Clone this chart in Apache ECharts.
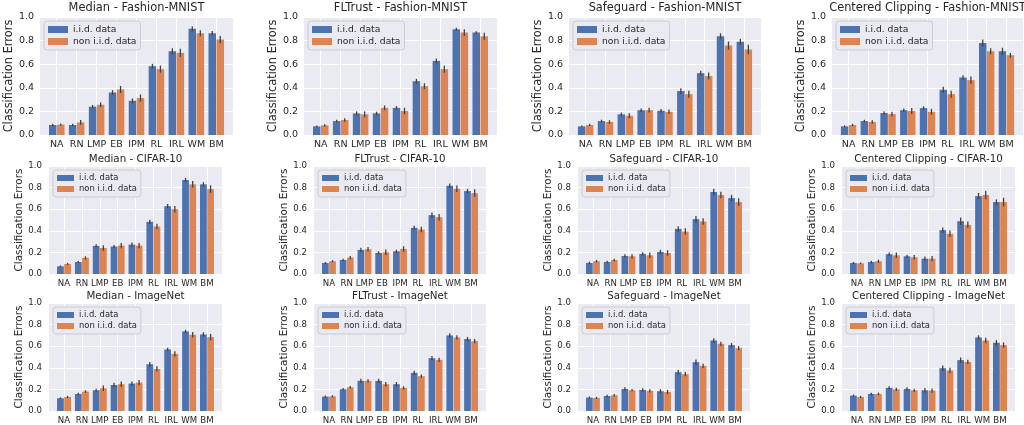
<!DOCTYPE html>
<html><head><meta charset="utf-8">
<script src="https://cdn.jsdelivr.net/npm/echarts@6/dist/echarts.min.js"></script>
<style>html,body{margin:0;padding:0;background:#fff}#c{width:1024px;height:425px}</style>
</head><body><div id="c"></div><script>
const categories = ['NA','RN','LMP','EB','IPM','RL','IRL','WM','BM'];
const seriesNames = ['i.i.d. data', 'non i.i.d. data'];
const yAxisName = 'Classification Errors';

// Row 1: Fashion-MNIST
const medianFmnistIid    = [0.085,0.085,0.240,0.360,0.290,0.583,0.710,0.900,0.862];
const medianFmnistNon    = [0.088,0.107,0.256,0.386,0.313,0.558,0.696,0.862,0.810];
const medianFmnistIidErr = [0.010,0.010,0.015,0.020,0.020,0.020,0.025,0.020,0.020];
const medianFmnistNonErr = [0.010,0.020,0.020,0.030,0.030,0.030,0.035,0.025,0.030];

const fltrustFmnistIid    = [0.073,0.118,0.183,0.183,0.230,0.456,0.628,0.896,0.868];
const fltrustFmnistNon    = [0.082,0.127,0.175,0.230,0.203,0.414,0.558,0.868,0.837];
const fltrustFmnistIidErr = [0.008,0.012,0.018,0.015,0.015,0.020,0.020,0.012,0.012];
const fltrustFmnistNonErr = [0.010,0.015,0.025,0.020,0.028,0.025,0.030,0.028,0.030];

const safeguardFmnistIid    = [0.073,0.118,0.175,0.210,0.205,0.372,0.524,0.837,0.790];
const safeguardFmnistNon    = [0.085,0.110,0.163,0.210,0.197,0.346,0.500,0.758,0.724];
const safeguardFmnistIidErr = [0.008,0.012,0.015,0.015,0.015,0.025,0.020,0.025,0.025];
const safeguardFmnistNonErr = [0.010,0.015,0.022,0.020,0.020,0.030,0.030,0.035,0.040];

const ccFmnistIid    = [0.073,0.118,0.186,0.210,0.228,0.383,0.487,0.780,0.710];
const ccFmnistNon    = [0.085,0.110,0.177,0.203,0.197,0.346,0.465,0.710,0.676];
const ccFmnistIidErr = [0.008,0.012,0.015,0.015,0.015,0.025,0.020,0.030,0.030];
const ccFmnistNonErr = [0.010,0.015,0.020,0.025,0.025,0.030,0.030,0.025,0.020];

// Row 2: CIFAR-10
const medianCifarIid    = [0.071,0.111,0.260,0.254,0.272,0.483,0.628,0.870,0.830];
const medianCifarNon    = [0.093,0.149,0.241,0.263,0.263,0.440,0.600,0.830,0.786];
const medianCifarIidErr = [0.008,0.010,0.015,0.015,0.020,0.020,0.020,0.020,0.020];
const medianCifarNonErr = [0.010,0.015,0.025,0.025,0.025,0.025,0.030,0.030,0.035];

const fltrustCifarIid    = [0.102,0.130,0.223,0.195,0.210,0.427,0.545,0.817,0.768];
const fltrustCifarNon    = [0.118,0.152,0.229,0.201,0.232,0.412,0.526,0.789,0.749];
const fltrustCifarIidErr = [0.010,0.012,0.020,0.015,0.015,0.020,0.025,0.020,0.020];
const fltrustCifarNonErr = [0.010,0.015,0.020,0.025,0.025,0.025,0.030,0.030,0.035];

const safeguardCifarIid    = [0.102,0.111,0.167,0.186,0.204,0.418,0.508,0.759,0.703];
const safeguardCifarNon    = [0.118,0.130,0.164,0.173,0.195,0.393,0.486,0.731,0.666];
const safeguardCifarIidErr = [0.012,0.012,0.015,0.015,0.020,0.025,0.030,0.030,0.030];
const safeguardCifarNonErr = [0.012,0.012,0.020,0.025,0.025,0.030,0.030,0.030,0.035];

const ccCifarIid    = [0.102,0.111,0.183,0.164,0.142,0.406,0.489,0.721,0.666];
const ccCifarNon    = [0.099,0.118,0.173,0.155,0.142,0.372,0.455,0.731,0.666];
const ccCifarIidErr = [0.010,0.012,0.015,0.015,0.020,0.025,0.035,0.030,0.025];
const ccCifarNonErr = [0.008,0.015,0.025,0.020,0.025,0.030,0.030,0.040,0.040];

// Row 3: ImageNet
const medianImagenetIid    = [0.118,0.158,0.192,0.241,0.254,0.433,0.570,0.737,0.709];
const medianImagenetNon    = [0.130,0.180,0.210,0.248,0.263,0.390,0.529,0.706,0.684];
const medianImagenetIidErr = [0.008,0.012,0.015,0.020,0.020,0.020,0.015,0.015,0.020];
const medianImagenetNonErr = [0.010,0.012,0.025,0.025,0.025,0.025,0.025,0.025,0.030];

const fltrustImagenetIid    = [0.133,0.201,0.279,0.279,0.248,0.353,0.489,0.700,0.666];
const fltrustImagenetNon    = [0.136,0.220,0.279,0.248,0.214,0.322,0.474,0.681,0.647];
const fltrustImagenetIidErr = [0.010,0.012,0.020,0.020,0.020,0.020,0.020,0.020,0.020];
const fltrustImagenetNonErr = [0.010,0.012,0.015,0.020,0.015,0.015,0.020,0.020,0.020];

const safeguardImagenetIid    = [0.124,0.139,0.204,0.195,0.183,0.359,0.452,0.653,0.610];
const safeguardImagenetNon    = [0.121,0.146,0.192,0.186,0.176,0.341,0.418,0.622,0.582];
const safeguardImagenetIidErr = [0.010,0.012,0.015,0.015,0.020,0.020,0.025,0.020,0.020];
const safeguardImagenetNonErr = [0.010,0.012,0.012,0.015,0.020,0.020,0.020,0.020,0.020];

const ccImagenetIid    = [0.142,0.158,0.214,0.204,0.192,0.396,0.471,0.681,0.632];
const ccImagenetNon    = [0.130,0.158,0.201,0.192,0.189,0.375,0.455,0.653,0.610];
const ccImagenetIidErr = [0.010,0.012,0.015,0.015,0.020,0.025,0.025,0.020,0.025];
const ccImagenetNonErr = [0.010,0.012,0.015,0.015,0.020,0.025,0.020,0.025,0.025];

const panels = [
  ['Median - Fashion-MNIST', medianFmnistIid, medianFmnistNon, medianFmnistIidErr, medianFmnistNonErr],
  ['FLTrust - Fashion-MNIST', fltrustFmnistIid, fltrustFmnistNon, fltrustFmnistIidErr, fltrustFmnistNonErr],
  ['Safeguard - Fashion-MNIST', safeguardFmnistIid, safeguardFmnistNon, safeguardFmnistIidErr, safeguardFmnistNonErr],
  ['Centered Clipping - Fashion-MNIST', ccFmnistIid, ccFmnistNon, ccFmnistIidErr, ccFmnistNonErr],
  ['Median - CIFAR-10', medianCifarIid, medianCifarNon, medianCifarIidErr, medianCifarNonErr],
  ['FLTrust - CIFAR-10', fltrustCifarIid, fltrustCifarNon, fltrustCifarIidErr, fltrustCifarNonErr],
  ['Safeguard - CIFAR-10', safeguardCifarIid, safeguardCifarNon, safeguardCifarIidErr, safeguardCifarNonErr],
  ['Centered Clipping - CIFAR-10', ccCifarIid, ccCifarNon, ccCifarIidErr, ccCifarNonErr],
  ['Median - ImageNet', medianImagenetIid, medianImagenetNon, medianImagenetIidErr, medianImagenetNonErr],
  ['FLTrust - ImageNet', fltrustImagenetIid, fltrustImagenetNon, fltrustImagenetIidErr, fltrustImagenetNonErr],
  ['Safeguard - ImageNet', safeguardImagenetIid, safeguardImagenetNon, safeguardImagenetIidErr, safeguardImagenetNonErr],
  ['Centered Clipping - ImageNet', ccImagenetIid, ccImagenetNon, ccImagenetIidErr, ccImagenetNonErr]
];

// layout per row
const rowsLayout = [
  {top: 17, height: 118, lefts: [40, 304, 569, 832], widths: [193, 193, 192, 191],
   titleTop: 3, titleSize: 11.4, tickSize: 9.5, nameSize: 11.4, nameGap: 25, labelMargin: 6,
   legendSize: 9.2, legendIconW: 20, legendIconH: 7, legendGap: 3},
  {top: 166, height: 108, lefts: [49, 314, 578, 842], widths: [173, 172, 172, 173],
   titleTop: 154, titleSize: 10.3, tickSize: 8.6, nameSize: 10.4, nameGap: 23, labelMargin: 7,
   legendSize: 8.4, legendIconW: 17, legendIconH: 6, legendGap: 3},
  {top: 303, height: 108, lefts: [49, 314, 578, 842], widths: [173, 172, 172, 173],
   titleTop: 291, titleSize: 10.3, tickSize: 8.6, nameSize: 10.4, nameGap: 23, labelMargin: 7,
   legendSize: 8.4, legendIconW: 17, legendIconH: 6, legendGap: 3}
];

const FONT = 'DejaVu Sans';
const TXT = '#262626';
const COLORS = ['#4C72B0', '#DD8452'];
const BG = '#EAEAF2';

const grids = [], xAxes = [], yAxes = [], titles = [], legends = [], series = [];

function errRenderer(offsetFrac) {
  return function (params, api) {
    const x = api.value(0), v = api.value(1), e = api.value(2);
    const band = api.size([1, 0])[0];
    const p1 = api.coord([x, v + e]);
    const p2 = api.coord([x, v - e]);
    const cx = p1[0] + offsetFrac * band;
    return {type: 'line', shape: {x1: cx, y1: p1[1], x2: cx, y2: p2[1]},
            style: {stroke: '#424242', lineWidth: 1.3}};
  };
}

// background grids (0..11)
panels.forEach((p, i) => {
  const r = Math.floor(i / 4), c = i % 4, L = rowsLayout[r];
  grids.push({left: L.lefts[c], top: L.top, width: L.widths[c], height: L.height,
              show: true, backgroundColor: BG, borderWidth: 0, containLabel: false});
  xAxes.push({gridIndex: i, type: 'value', min: 0, max: 1, show: false});
  yAxes.push({gridIndex: i, type: 'value', min: 0, max: 1, interval: 0.2,
    name: yAxisName, nameLocation: 'middle', nameGap: L.nameGap,
    nameTextStyle: {fontFamily: FONT, fontSize: L.nameSize, color: TXT},
    axisLine: {show: false}, axisTick: {show: false},
    axisLabel: {fontFamily: FONT, fontSize: L.tickSize, color: TXT, margin: L.labelMargin,
                formatter: v => v.toFixed(1)},
    splitLine: {show: true, lineStyle: {color: '#ffffff', width: 1}}});
  titles.push({text: p[0], left: L.lefts[c] + L.widths[c] / 2, top: L.titleTop, textAlign: 'center',
    padding: 0, textStyle: {fontFamily: FONT, fontSize: L.titleSize, fontWeight: 'normal', color: TXT}});
  legends.push({data: seriesNames, orient: 'vertical', left: L.lefts[c] + 4, top: L.top + 4,
    icon: 'rect', itemWidth: L.legendIconW, itemHeight: L.legendIconH, itemGap: L.legendGap,
    padding: [4, 4, 4, 4], backgroundColor: BG, borderColor: '#cccccc', borderWidth: 1, borderRadius: 3,
    textStyle: {fontFamily: FONT, fontSize: L.legendSize, color: TXT}, selectedMode: false});
});

// data grids (12..23)
panels.forEach((p, i) => {
  const r = Math.floor(i / 4), c = i % 4, L = rowsLayout[r];
  const W = L.widths[c];
  const inset = W * 0.34 / 9.68;
  const gi = 12 + i;
  grids.push({left: L.lefts[c] + inset, top: L.top, width: W - 2 * inset, height: L.height, show: false});
  xAxes.push({gridIndex: gi, type: 'category', data: categories, boundaryGap: true,
    axisLine: {show: false},
    axisTick: {show: true, inside: true, length: L.height, alignWithLabel: true,
               lineStyle: {color: '#ffffff', width: 1}},
    axisLabel: {fontFamily: FONT, fontSize: L.tickSize, color: TXT, margin: 5, interval: 0},
    splitLine: {show: false}});
  yAxes.push({gridIndex: gi, type: 'value', min: 0, max: 1, show: false, splitLine: {show: false}});
  [0, 1].forEach(k => {
    series.push({type: 'bar', name: seriesNames[k], xAxisIndex: gi, yAxisIndex: gi,
      data: p[1 + k], itemStyle: {color: COLORS[k]}, barCategoryGap: '22%', barGap: '6%',
      z: 2, silent: true});
  });
  [0, 1].forEach(k => {
    const vals = p[1 + k], errs = p[3 + k];
    series.push({type: 'custom', name: 'err' + k, xAxisIndex: gi, yAxisIndex: gi, z: 3, silent: true,
      renderItem: errRenderer(k === 0 ? -0.2007 : 0.2007),
      data: vals.map((v, j) => [j, v, errs[j]])});
  });
});

const chart = echarts.init(document.getElementById('c'), null, {renderer: 'canvas'});
chart.setOption({animation: false, title: titles, legend: legends, grid: grids,
  xAxis: xAxes, yAxis: yAxes, series: series, tooltip: {show: false}});
</script></body></html>
